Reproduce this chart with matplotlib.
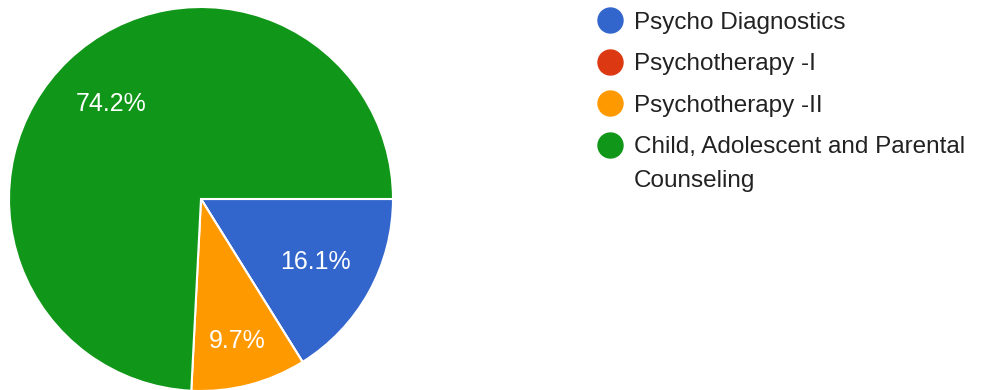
import matplotlib.pyplot as plt
from matplotlib.lines import Line2D

plt.rcParams['font.family'] = ['Liberation Sans', 'DejaVu Sans']

# data
kursus = ["Psycho Diagnostics", "Psychotherapy -I", "Psychotherapy -II",
          "Child, Adolescent and Parental\nCounseling"]
jumlah = [5, 0, 3, 23]
warna = ["#3366cc", "#dc3912", "#ff9900", "#109618"]

fig = plt.figure(figsize=(10.08, 3.9), dpi=100)
ax = fig.add_axes([0, 0, 1, 1])


def label_pct(p):
    return "" if p < 0.05 else f"{p:.1f}%"


wedges, _, pcts = ax.pie(jumlah, colors=warna, startangle=0, counterclock=False,
                         center=(201, 191), radius=192, autopct=label_pct,
                         pctdistance=0.68,
                         wedgeprops=dict(edgecolor="white", linewidth=1.5),
                         textprops=dict(color="white", fontsize=18))
# the small orange slice has its label a bit further out
x, y = pcts[2].get_position()
pcts[2].set_position((201 + (x - 201) * 1.12, 191 + (y - 191) * 1.12))

ax.set_aspect("auto")
ax.set_xlim(0, 1008)
ax.set_ylim(0, 390)
ax.axis("off")

handles = [Line2D([], [], marker="o", linestyle="", markersize=18,
                  markerfacecolor=c, markeredgecolor=c) for c in warna]
leg = ax.legend(handles, kursus, loc="upper left", bbox_to_anchor=(586 / 1008, 1.0),
                frameon=False, fontsize=17.5, handlelength=1.0, handletextpad=0.5,
                labelspacing=0.8, borderaxespad=0.08)
for t in leg.get_texts():
    t.set_color("#222222")
    t.set_linespacing(1.7)
# marker of the wrapped label sits at its first line
h = leg.legend_handles[3]
h.set_ydata([v + 13.5 for v in h.get_ydata()])

fig.savefig("out.png", dpi=100)
